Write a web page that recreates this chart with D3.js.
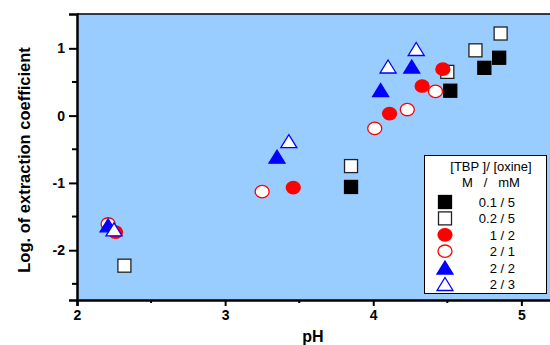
<!DOCTYPE html>
<html>
<head>
<meta charset="utf-8">
<script src="https://cdn.jsdelivr.net/npm/d3@7"></script>
<style>
  body { margin: 0; background: #fff; }
  svg { display: block; font-family: "Liberation Sans", Arial, sans-serif; }
</style>
</head>
<body>
<div id="chart"></div>
<script>
// legend labels, one per series
const seriesNames = ["0.1 / 5", "0.2 / 5", "1 / 2", "2 / 1", "2 / 2", "2 / 3"];

// pH values per series
const pH_01_5 = [3.85, 4.52, 4.75, 4.85];
const pH_02_5 = [2.32, 3.85, 4.50, 4.69, 4.86];
const pH_1_2 = [2.26, 3.46, 4.11, 4.33, 4.47];
const pH_2_1 = [2.21, 3.25, 4.01, 4.23, 4.42];
const pH_2_2 = [2.21, 3.35, 4.05, 4.26];
const pH_2_3 = [2.25, 3.43, 4.10, 4.29];

// log extraction coefficient per series
const logD_01_5 = [-1.06, 0.37, 0.71, 0.86];
const logD_02_5 = [-2.23, -0.75, 0.65, 0.97, 1.22];
const logD_1_2 = [-1.73, -1.07, 0.03, 0.44, 0.69];
const logD_2_1 = [-1.61, -1.13, -0.19, 0.09, 0.36];
const logD_2_2 = [-1.63, -0.61, 0.38, 0.73];
const logD_2_3 = [-1.69, -0.38, 0.73, 0.99];

const xTicks = [2, 3, 4, 5];
const xMinor = [2.5, 3.5, 4.5];
const yTicks = [-2, -1, 0, 1];
const yMinor = [-2.5, -1.5, -0.5, 0.5];

const series = [
  {name: seriesNames[0], x: pH_01_5, y: logD_01_5, shape: "square", fill: "#000", stroke: "#000"},
  {name: seriesNames[1], x: pH_02_5, y: logD_02_5, shape: "square", fill: "#fff", stroke: "#222"},
  {name: seriesNames[2], x: pH_1_2, y: logD_1_2, shape: "circle", fill: "#ff0000", stroke: "#ff0000"},
  {name: seriesNames[3], x: pH_2_1, y: logD_2_1, shape: "circle", fill: "#fff", stroke: "#ff0000"},
  {name: seriesNames[4], x: pH_2_2, y: logD_2_2, shape: "triangle", fill: "#0000ff", stroke: "#0000ff"},
  {name: seriesNames[5], x: pH_2_3, y: logD_2_3, shape: "triangle", fill: "#fff", stroke: "#0000ff"}
];

const width = 550, height = 345;
const margin = {top: 14, right: 0, bottom: 45, left: 77};

const svg = d3.select("#chart").append("svg")
  .attr("width", width)
  .attr("height", height);

const x = d3.scaleLinear().domain([2, 5.2]).range([margin.left, 551]);
const y = d3.scaleLinear().domain([-2.74, 1.51]).range([height - margin.bottom, margin.top]);

// plot background
svg.append("rect")
  .attr("x", margin.left)
  .attr("y", margin.top)
  .attr("width", width - margin.left + 2)
  .attr("height", y.range()[0] - margin.top)
  .attr("fill", "#99ccff");

// top border line
svg.append("line")
  .attr("x1", margin.left).attr("x2", width)
  .attr("y1", margin.top).attr("y2", margin.top)
  .attr("stroke", "#000").attr("stroke-width", 1.5);

// axes
const xAxis = svg.append("g")
  .attr("transform", `translate(0,${y.range()[0]})`)
  .call(d3.axisBottom(x).tickValues(xTicks).tickSize(6).tickPadding(4).tickFormat(d3.format("d")));
xAxis.append("g").selectAll("line")
  .data(xMinor).join("line")
  .attr("x1", d => x(d)).attr("x2", d => x(d))
  .attr("y1", 0).attr("y2", 3)
  .attr("stroke", "#000").attr("stroke-width", 2);

const yAxis = svg.append("g")
  .attr("transform", `translate(${margin.left},0)`)
  .call(d3.axisLeft(y).tickValues(yTicks).tickSize(8).tickPadding(4).tickFormat(d3.format("d")));
yAxis.append("g").selectAll("line")
  .data(yMinor).join("line")
  .attr("x1", -5).attr("x2", 0)
  .attr("y1", d => y(d)).attr("y2", d => y(d))
  .attr("stroke", "#000").attr("stroke-width", 2);

[xAxis, yAxis].forEach(g => {
  g.select(".domain").attr("stroke", "#000").attr("stroke-width", 2.5);
  g.selectAll(".tick line").attr("stroke", "#000").attr("stroke-width", 2);
  g.selectAll(".tick text")
    .attr("fill", "#000")
    .style("font-size", "14px")
    .style("font-weight", "bold");
});
yAxis.selectAll(".tick text").text(d => d < 0 ? "-" + Math.abs(d) : d);

// axis titles
svg.append("text")
  .attr("x", 313).attr("y", 342)
  .attr("text-anchor", "middle")
  .style("font-size", "16px").style("font-weight", "bold")
  .text("pH");

svg.append("text")
  .attr("transform", "translate(30,160) rotate(-90)")
  .attr("text-anchor", "middle")
  .style("font-size", "16.5px").style("font-weight", "bold")
  .text("Log. of extraction coefficient");

// markers
function drawMarker(g, s, cx, cy) {
  if (s.shape === "square") {
    g.append("rect")
      .attr("x", cx - 6.5).attr("y", cy - 6.5)
      .attr("width", 13).attr("height", 13)
      .attr("fill", s.fill).attr("stroke", s.stroke).attr("stroke-width", 1.3);
  } else if (s.shape === "circle") {
    g.append("ellipse")
      .attr("cx", cx).attr("cy", cy)
      .attr("rx", 7).attr("ry", 6.2)
      .attr("fill", s.fill).attr("stroke", s.stroke).attr("stroke-width", 1.3);
  } else {
    const w = 16, h = 13;
    g.append("path")
      .attr("d", `M${cx},${cy - h / 2}L${cx + w / 2},${cy + h / 2}L${cx - w / 2},${cy + h / 2}Z`)
      .attr("fill", s.fill).attr("stroke", s.stroke).attr("stroke-width", 1.3);
  }
}

const pts = svg.append("g");
series.forEach(s => {
  s.x.forEach((v, i) => drawMarker(pts, s, x(v), y(s.y[i])));
});

// legend
const leg = svg.append("g");
leg.append("rect")
  .attr("x", 424.5).attr("y", 155.5)
  .attr("width", 122).attr("height", 138)
  .attr("fill", "#fff").attr("stroke", "#000").attr("stroke-width", 1);
leg.append("text")
  .attr("x", 491).attr("y", 171)
  .attr("text-anchor", "middle")
  .style("font-size", "13px")
  .text("[TBP ]/ [oxine]");
leg.append("text")
  .attr("x", 491).attr("y", 187)
  .attr("text-anchor", "middle")
  .style("font-size", "13px")
  .attr("xml:space", "preserve")
  .text("M   /   mM");

series.forEach((s, i) => {
  const cy = 202 + i * 16.4;
  drawMarker(leg, s, 445, cy);
  leg.append("text")
    .attr("x", 515).attr("y", cy + 5)
    .attr("text-anchor", "end")
    .style("font-size", "13px")
    .text(s.name);
});
</script>
</body>
</html>
